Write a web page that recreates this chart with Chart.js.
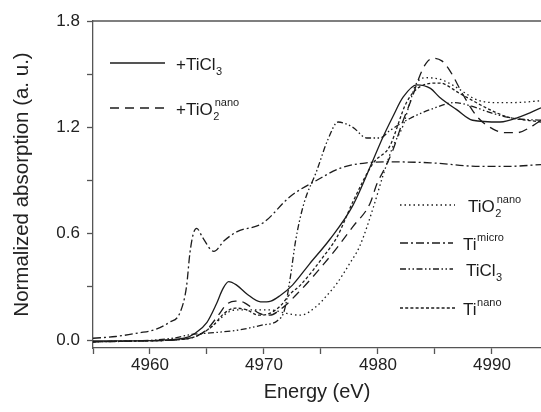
<!DOCTYPE html>
<html>
<head>
<meta charset="utf-8">
<script src="https://cdn.jsdelivr.net/npm/chart.js@4.4.1/dist/chart.umd.min.js"></script>
<style>
  html, body { margin: 0; padding: 0; background: #fff; }
  #wrap { width: 541px; height: 412px; }
</style>
</head>
<body>
<div id="wrap"><canvas id="xanes" width="541" height="412"></canvas></div>
<script>
// energy (eV) / normalized absorption
const ePlusTiCl3 = [4955, 4958, 4961, 4963, 4964, 4965, 4965.8, 4966.4, 4966.9, 4967.6, 4968.5, 4969.7, 4970.6, 4971.4, 4972.5, 4974, 4975.8, 4977.8, 4979.6, 4980.4, 4981.3, 4982.2, 4983.4, 4984.6, 4985.4, 4986.9, 4988.3, 4990.7, 4992.5, 4994.3];
const aPlusTiCl3 = [-0.005, -0.005, 0.0, 0.01, 0.04, 0.10, 0.20, 0.29, 0.33, 0.31, 0.26, 0.215, 0.22, 0.25, 0.31, 0.43, 0.57, 0.76, 1.02, 1.14, 1.26, 1.37, 1.44, 1.42, 1.37, 1.30, 1.24, 1.23, 1.26, 1.31];

const ePlusTiO2 = [4955, 4959, 4962, 4964, 4965, 4966, 4966.7, 4967.5, 4968.3, 4969.6, 4970.5, 4971.4, 4973.2, 4974.6, 4976.4, 4977.8, 4979.3, 4979.9, 4980.6, 4981.3, 4982.1, 4983.0, 4983.6, 4984.2, 4984.8, 4985.6, 4986.3, 4987.5, 4988.7, 4990.1, 4991.2, 4992.2, 4993.6, 4994.3];
const aPlusTiO2 = [-0.01, -0.005, 0.0, 0.02, 0.06, 0.14, 0.20, 0.22, 0.21, 0.15, 0.14, 0.17, 0.28, 0.38, 0.52, 0.64, 0.77, 0.88, 0.97, 1.07, 1.22, 1.37, 1.48, 1.56, 1.59, 1.575, 1.52, 1.38, 1.26, 1.19, 1.17, 1.17, 1.21, 1.24];

const eTiO2Nano = [4955, 4959, 4962, 4964, 4965.5, 4966.7, 4967.5, 4969, 4970.5, 4972, 4973.2, 4974.6, 4975.5, 4976.4, 4977.5, 4978.4, 4979.6, 4980.4, 4981.3, 4982.2, 4982.8, 4983.3, 4984.2, 4985.5, 4986.5, 4987.5, 4988.5, 4990, 4992, 4994.3];
const aTiO2Nano = [-0.01, -0.005, 0.0, 0.02, 0.08, 0.15, 0.17, 0.17, 0.17, 0.15, 0.14, 0.19, 0.25, 0.32, 0.43, 0.53, 0.75, 0.92, 1.09, 1.21, 1.34, 1.44, 1.48, 1.47, 1.44, 1.40, 1.36, 1.34, 1.34, 1.35];

const eTiMicro = [4955, 4957, 4959, 4960.5, 4961.7, 4962.6, 4963.2, 4963.5, 4963.8, 4964.1, 4964.6, 4965.6, 4966.5, 4967.6, 4969.9, 4972.3, 4974.6, 4976.7, 4979, 4981.3, 4984.6, 4988.9, 4991.5, 4994.3];
const aTiMicro = [0.01, 0.02, 0.04, 0.06, 0.10, 0.15, 0.30, 0.49, 0.60, 0.63, 0.58, 0.50, 0.56, 0.61, 0.66, 0.81, 0.90, 0.97, 1.0, 1.005, 1.0, 0.98, 0.98, 0.99];

const eTiCl3 = [4955, 4959, 4962, 4963.5, 4965.3, 4967.6, 4969.9, 4971.2, 4971.8, 4972.3, 4972.8, 4973.5, 4974.6, 4975.6, 4976.5, 4977.8, 4979, 4980.2, 4981, 4982.8, 4985, 4986.7, 4988.2, 4990, 4992, 4994.3];
const aTiCl3 = [-0.01, -0.005, 0.01, 0.03, 0.04, 0.055, 0.085, 0.11, 0.17, 0.35, 0.57, 0.77, 0.95, 1.13, 1.23, 1.20, 1.14, 1.14, 1.18, 1.25, 1.31, 1.34, 1.32, 1.28, 1.25, 1.24];

const eTiNano = [4955, 4959, 4962, 4964, 4965.5, 4966.5, 4967.5, 4968.5, 4969.5, 4970.5, 4971.4, 4972.3, 4973.2, 4975.2, 4976.4, 4977.8, 4979.6, 4981, 4982.5, 4983.7, 4985.4, 4987.2, 4989.8, 4991.3, 4994.3];
const aTiNano = [-0.01, -0.005, 0.0, 0.02, 0.08, 0.15, 0.18, 0.17, 0.14, 0.15, 0.19, 0.26, 0.31, 0.47, 0.58, 0.78, 1.0, 1.09, 1.34, 1.43, 1.45, 1.39, 1.30, 1.26, 1.23];

// major ticks carry labels, minor ticks sit half way between
const xTickLabels = [4960, 4970, 4980, 4990];
const xMinorTicks = [4955, 4965, 4975, 4985];
const yTickLabels = [0.0, 0.6, 1.2, 1.8];
const yMinorTicks = [0.3, 0.9, 1.5];

const INK = '#1c1c1c';
const AXIS = '#555';
const FONT = "'Liberation Sans', Arial, sans-serif";

const pts = (xs, ys) => xs.map((x, i) => ({ x, y: ys[i] }));

function line(label, xs, ys, dash) {
    return {
        label,
        data: pts(xs, ys),
        borderColor: INK,
        borderWidth: 1.3,
        borderDash: dash,
        pointRadius: 0,
        cubicInterpolationMode: 'monotone',
        fill: false,
    };
}

const datasets = [
    line('+TiCl3', ePlusTiCl3, aPlusTiCl3, []),
    line('+TiO2 nano', ePlusTiO2, aPlusTiO2, [9, 6]),
    line('TiO2 nano', eTiO2Nano, aTiO2Nano, [1.5, 3]),
    line('Ti micro', eTiMicro, aTiMicro, [8, 3, 2, 3]),
    line('TiCl3', eTiCl3, aTiCl3, [6, 2.5, 1.5, 2.5, 1.5, 2.5]),
    line('Ti nano', eTiNano, aTiNano, [3, 2.2]),
];

// legend entries: dataset index, sample line, text pieces (n / sub / sup)
const legendItems = [
    { ds: 0, x1: 110, x2: 165, y: 63, tx: 176, parts: [['+TiCl', 'n'], ['3', 'sub']] },
    { ds: 1, x1: 110, x2: 165, y: 108, tx: 176, parts: [['+TiO', 'n'], ['2', 'sub'], ['nano', 'sup']] },
    { ds: 2, x1: 400, x2: 455, y: 205, tx: 468, parts: [['TiO', 'n'], ['2', 'sub'], ['nano', 'sup']] },
    { ds: 3, x1: 400, x2: 453, y: 243, tx: 463, parts: [['Ti', 'n'], ['micro', 'sup']] },
    { ds: 4, x1: 400, x2: 453, y: 269, tx: 466, parts: [['TiCl', 'n'], ['3', 'sub']] },
    { ds: 5, x1: 400, x2: 455, y: 308, tx: 463, parts: [['Ti', 'n'], ['nano', 'sup']] },
];

const legendPlugin = {
    id: 'xanesLegend',
    afterDraw(chart) {
        const { ctx, chartArea } = chart;
        ctx.save();
        // top frame line
        ctx.strokeStyle = AXIS;
        ctx.lineWidth = 1.3;
        ctx.beginPath();
        ctx.moveTo(chartArea.left, chartArea.top);
        ctx.lineTo(chartArea.right, chartArea.top);
        ctx.stroke();

        ctx.fillStyle = INK;
        ctx.textBaseline = 'alphabetic';
        legendItems.forEach(item => {
            const ds = chart.data.datasets[item.ds];
            ctx.strokeStyle = INK;
            ctx.lineWidth = 1.3;
            ctx.setLineDash(ds.borderDash);
            ctx.beginPath();
            ctx.moveTo(item.x1, item.y);
            ctx.lineTo(item.x2, item.y);
            ctx.stroke();
            ctx.setLineDash([]);

            const base = item.y + 7;
            let x = item.tx;
            let subStart = null;
            item.parts.forEach(([txt, kind]) => {
                if (kind === 'n') {
                    ctx.font = `17px ${FONT}`;
                    ctx.fillText(txt, x, base);
                    x += ctx.measureText(txt).width;
                } else if (kind === 'sub') {
                    ctx.font = `11px ${FONT}`;
                    subStart = x;
                    ctx.fillText(txt, x + 0.5, base + 5);
                    x += ctx.measureText(txt).width + 0.5;
                } else {
                    ctx.font = `11px ${FONT}`;
                    const sx = subStart !== null ? subStart + 2 : x + 0.5;
                    ctx.fillText(txt, sx, base - 9);
                }
            });
        });
        ctx.restore();
    },
};

const asTicks = (major, minor) => major.concat(minor).sort((a, b) => a - b).map(value => ({ value }));

new Chart(document.getElementById('xanes'), {
    type: 'line',
    data: { datasets },
    plugins: [legendPlugin],
    options: {
        responsive: false,
        animation: false,
        devicePixelRatio: 1,
        layout: { padding: { top: 21, right: 0, left: 0, bottom: 0 } },
        plugins: { legend: { display: false }, tooltip: { enabled: false } },
        scales: {
            x: {
                type: 'linear',
                min: 4955,
                max: 4994.3,
                afterFit: s => { s.height = 64; },
                afterBuildTicks: s => { s.ticks = asTicks(xTickLabels, xMinorTicks); },
                ticks: {
                    autoSkip: false,
                    maxRotation: 0,
                    padding: 1,
                    color: '#222',
                    font: { family: FONT, size: 17 },
                    callback: v => (xTickLabels.includes(v) ? String(v) : ''),
                },
                grid: { drawOnChartArea: false, drawTicks: true, tickLength: 6, tickColor: AXIS, tickWidth: 1.3 },
                border: { display: true, color: AXIS, width: 1.3 },
                title: {
                    display: true,
                    text: 'Energy (eV)',
                    color: '#222',
                    font: { family: FONT, size: 20 },
                    padding: { top: 0, bottom: 8 },
                },
            },
            y: {
                min: -0.045,
                max: 1.8,
                afterFit: s => { s.width = 93; },
                afterBuildTicks: s => { s.ticks = asTicks(yTickLabels, yMinorTicks); },
                ticks: {
                    autoSkip: false,
                    padding: 7,
                    color: '#222',
                    font: { family: FONT, size: 17 },
                    callback: v => (yTickLabels.includes(v) ? v.toFixed(1) : ''),
                },
                grid: { drawOnChartArea: false, drawTicks: true, tickLength: 6, tickColor: AXIS, tickWidth: 1.3 },
                border: { display: true, color: AXIS, width: 1.3 },
                title: {
                    display: true,
                    text: 'Normalized absorption (a. u.)',
                    color: '#222',
                    font: { family: FONT, size: 20.5 },
                    padding: { top: 10, bottom: 0 },
                },
            },
        },
    },
});
</script>
</body>
</html>
